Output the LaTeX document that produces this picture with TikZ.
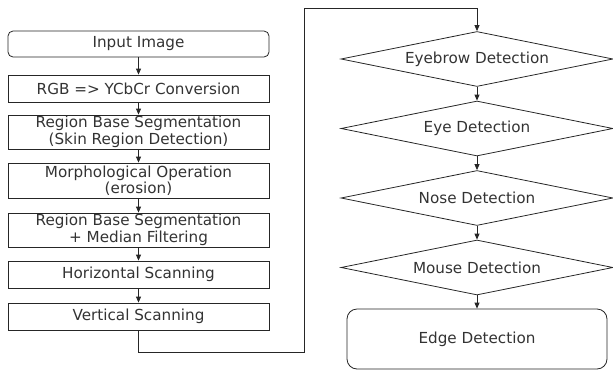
\documentclass[tikz,border=0pt]{standalone}
\usepackage{fontspec}
\setmainfont{DejaVu Sans}
\usetikzlibrary{shapes.geometric,arrows.meta}
\begin{document}
\begin{tikzpicture}[x=1pt,y=-1pt,
  font=\fontsize{15.2}{16}\selectfont,
  every node/.style={text=black!80},
  line/.style={draw=black!85,line width=0.8pt},
  arr/.style={line,-{Triangle[length=6pt,width=5pt]}},
  procbox/.style={line,rectangle,minimum width=261pt,inner sep=0pt,align=center},
  twoline/.style={font=\fontsize{15.2}{16.5}\selectfont},
  decbox/.style={line,diamond,aspect=4.95,minimum width=272pt,minimum height=55pt,inner sep=0pt},
]
\useasboundingbox (0,0) rectangle (613,370);
\node[procbox,rounded corners=5pt,minimum height=26pt] (in) at (138.5,44) {Input Image};
\node[procbox,minimum height=27pt] (rgb) at (138.5,88.5) {RGB => YCbCr Conversion};
\node[procbox,minimum height=34pt,twoline] (rbs) at (138.5,132) {Region Base Segmentation\\(Skin Region Detection)};
\node[procbox,minimum height=35pt,twoline] (mo) at (138.5,180.5) {Morphological Operation\\(erosion)};
\node[procbox,minimum height=34pt,twoline] (rbm) at (138.5,230) {Region Base Segmentation\\+ Median Filtering};
\node[procbox,minimum height=27pt] (hs) at (138.5,274.5) {Horizontal Scanning};
\node[procbox,minimum height=27pt] (vs) at (138.5,316.5) {Vertical Scanning};

\node[decbox] (eb) at (477,59) {Eyebrow Detection};
\node[decbox] (ey) at (477,128.5) {Eye Detection};
\node[decbox] (no) at (477,198) {Nose Detection};
\node[decbox] (mu) at (477,267.5) {Mouse Detection};
\node[line,rectangle,rounded corners=10pt,minimum width=260pt,minimum height=60pt] (ed) at (477,339) {Edge Detection};

\draw[arr] (in) -- (rgb);
\draw[arr] (rgb) -- (rbs);
\draw[arr] (rbs) -- (mo);
\draw[arr] (mo) -- (rbm);
\draw[arr] (rbm) -- (hs);
\draw[arr] (hs) -- (vs);

\coordinate (c1) at (138.5,352);
\coordinate (c2) at (304,352);
\coordinate (c3) at (304,8);
\coordinate (c4) at (477,8);
\draw[arr] (vs.south) -- (c1) -- (c2) -- (c3) -- (c4) -- (eb.north);

\draw[arr] (eb) -- (ey);
\draw[arr] (ey) -- (no);
\draw[arr] (no) -- (mu);
\draw[arr] (mu) -- (ed);
\end{tikzpicture}
\end{document}
